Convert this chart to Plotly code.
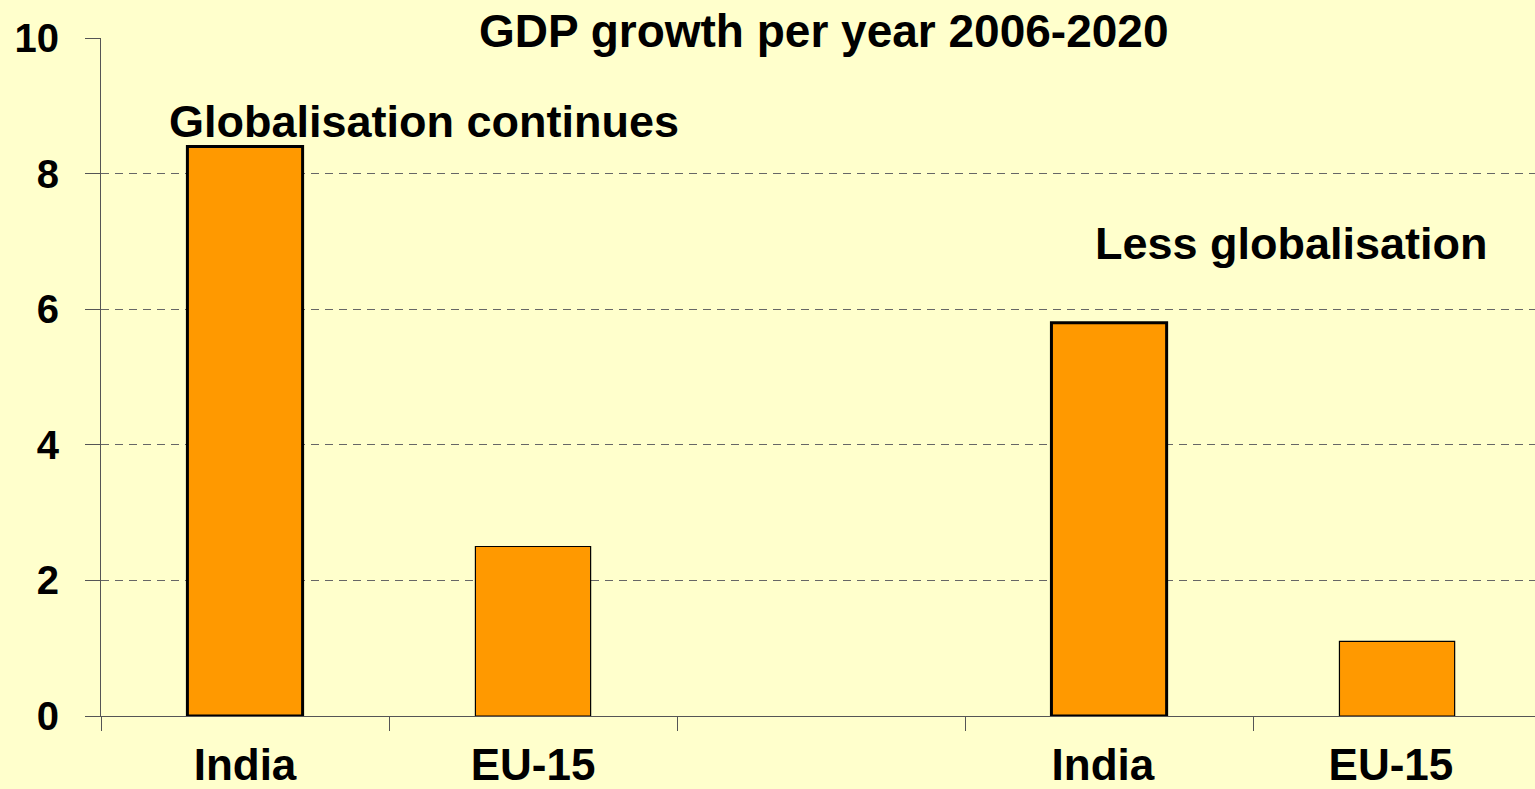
import plotly.graph_objects as go

categories = ["India", "EU-15", " ", "India ", "EU-15 "]
bar_cats = ["India", "EU-15", "India ", "EU-15 "]
values = [8.4, 2.5, 5.8, 1.1]
border_widths = [3, 1.2, 3, 1.2]
y_ticks = [0, 2, 4, 6, 8, 10]

FONT = "Liberation Sans, Arial, sans-serif"
BG = "#FFFFCC"
L, R, T, B = 101, 0, 38, 71
PW, PH = 1535 - L - R, 789 - T - B


def px_x(px):
    return (px - L) / PW


def px_y(py):
    return (789 - B - py) / PH


fig = go.Figure()
fig.add_trace(go.Bar(
    x=bar_cats, y=values, width=0.4,
    marker=dict(color="#FF9900", line=dict(color="#000000", width=border_widths)),
    hoverinfo="x+y",
))

fig.update_layout(
    width=1535, height=789,
    paper_bgcolor=BG, plot_bgcolor=BG,
    margin=dict(l=L, r=R, t=T, b=B),
    showlegend=False,
    font=dict(family=FONT, color="#000000"),
)

fig.update_xaxes(
    type="category", categoryorder="array", categoryarray=categories,
    range=[-0.5, 4.479],
    tickson="boundaries", ticks="outside", ticklen=14, tickcolor="#555555", tickwidth=1,
    showline=True, linecolor="#555555", linewidth=1,
    showgrid=False,
    ticklabelstandoff=10,
    tickfont=dict(family=FONT, size=44, weight="bold", color="#000000"),
)
fig.update_yaxes(
    range=[0, 10], tickvals=y_ticks,
    ticks="outside", ticklen=15, tickcolor="#555555", tickwidth=1,
    showline=True, linecolor="#555555", linewidth=1,
    showgrid=True, gridcolor="#666666", gridwidth=1, griddash="8px,6px",
    zeroline=False,
    ticklabelstandoff=18,
    tickfont=dict(family=FONT, size=40, weight="bold", color="#000000"),
)

ann_font = dict(family=FONT, size=45, weight="bold", color="#000000")
fig.add_annotation(text="GDP growth per year 2006-2020", xref="paper", yref="paper",
                   x=px_x(824), y=px_y(31), xanchor="center", yanchor="middle",
                   showarrow=False, font=dict(family=FONT, size=46, weight="bold", color="#000000"))
fig.add_annotation(text="Globalisation continues", xref="paper", yref="paper",
                   x=px_x(424), y=px_y(122), xanchor="center", yanchor="middle",
                   showarrow=False, font=ann_font)
fig.add_annotation(text="Less globalisation", xref="paper", yref="paper",
                   x=px_x(1291), y=px_y(244), xanchor="center", yanchor="middle",
                   showarrow=False, font=ann_font)

fig.write_html("out.html")
